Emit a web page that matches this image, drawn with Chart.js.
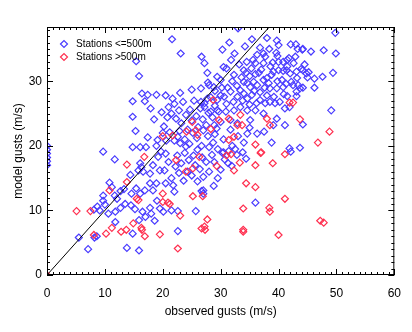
<!DOCTYPE html>
<html>
<head>
<meta charset="utf-8">
<script src="https://cdn.jsdelivr.net/npm/chart.js@4.4.1/dist/chart.umd.min.js"></script>
<style>
  html, body { margin: 0; padding: 0; background: #fff; }
  #chart { display: block; }
</style>
</head>
<body>
<canvas id="chart" width="412" height="332"></canvas>
<script>
// observed gust, model gust (m/s) -- stations at or below 500 m
const lowStations = [
  [0,17.0],[0,17.6],[0,18.2],[0,18.8],[0,19.4],[0,20.0],
  [9.7,19.1],[11.7,17.9],[16.1,17.3],[16.3,16.7],[15.8,16.2],[16.6,16.0],[17.8,15.7],[18.3,17.0],[19.2,18.3],[19.5,16.2],
  [17.8,14.2],[16.9,13.1],[18.3,13.1],[18.9,14.2],[16.1,12.6],[14.6,12.6],[15.4,13.4],[14.4,15.5],
  [10.8,14.3],[11.2,13.6],[9.7,12.3],[9.7,11.5],[11.7,12.3],[12.1,11.8],[12.7,13.0],[13.3,13.3],
  [8.1,10.1],[8.7,10.6],[9.1,10.0],[10.0,10.9],[10.6,9.5],[11.8,9.8],[11.8,8.2],
  [12.7,10.4],[13.5,11.0],[14.5,10.8],[15.2,10.2],[15.9,8.5],[16.5,9.8],[17.0,9.0],[17.8,10.4],[18.0,9.5],[19.0,11.5],[19.5,10.3],[18.6,8.4],
  [5.5,5.8],[7.1,4.0],[8.2,5.8],[8.6,6.0],[13.8,4.2],[15.9,3.8],[14.8,6.4],
  [14.8,19.8],[16.1,19.8],[17.1,19.8],[18.9,20.0],[19.7,19.1],[15.3,22.3],[17.4,21.3],[19.1,20.9],[20.6,20.8],
  [15.4,33.1],[15.9,30.8],[16.4,28.1],[17.4,27.9],[14.8,26.9],[16.9,26.9],[18.9,27.9],[17.9,25.8],[14.8,24.5],[18.5,24.1],[19.8,25.2],[20.5,27.8],
  [21.0,26.0],[21.5,25.0],[22.0,26.5],[22.3,24.2],[22.8,25.5],[23.2,23.5],[23.5,26.8],[24.0,24.8],[24.3,22.5],[24.7,25.6],
  [25.0,23.9],[25.4,27.0],[25.8,24.6],[26.1,22.9],[26.5,25.8],[26.9,24.1],[27.2,26.6],[27.5,23.2],[27.9,25.1],[28.3,27.5],
  [28.6,24.4],[29.0,26.2],[29.3,22.7],[29.7,25.3],[30.0,27.8],[20.2,23.0],[21.2,22.1],[22.6,21.4],[23.8,21.0],[24.6,20.3],
  [25.9,21.2],[26.7,20.0],[27.8,21.5],[28.7,20.5],[21.7,27.3],[23.0,28.2],[25.0,28.7],[26.6,28.9],[27.7,31.3],[27.8,29.8],
  [28.8,29.1],[21.6,36.5],[23.1,34.3],[26.7,33.8],[27.2,32.8],[22.0,20.8],[20.8,24.4],
  [33.0,38.2],[38.0,36.7],[39.7,36.3],[40.0,35.6],[42.1,35.7],[43.0,35.7],[44.1,34.9],[45.6,34.6],[47.8,34.8],[49.8,37.5],
  [49.9,34.3],[30.3,34.9],[32.4,34.3],[36.3,34.1],[37.4,34.3],[37.7,33.8],[39.6,34.4],[39.8,33.9],[40.8,33.0],[41.5,33.3],
  [42.9,33.8],[39.0,32.9],[40.0,33.0],[36.0,32.8],[37.4,32.8],[30.5,32.2],[31.0,32.0],[34.0,31.7],[34.4,31.3],[32.3,31.0],
  [36.0,31.1],[36.6,31.3],[39.1,31.5],[40.0,31.7],[40.8,31.6],[41.4,31.7],[43.1,31.5],[44.2,31.7],[44.8,31.2],[46.2,30.4],
  [47.6,30.7],[49.4,31.3],[29.4,30.7],[30.0,30.2],[28.0,29.4],[34.0,29.9],[34.6,29.7],[35.1,29.1],[35.7,29.9],[36.3,29.4],
  [37.4,30.2],[38.3,29.7],[38.5,28.9],[39.7,28.9],[40.8,29.1],[42.5,29.4],[43.7,28.9],[40.9,28.0],[41.5,27.7],[33.4,28.6],
  [34.0,28.1],[32.9,27.6],[34.6,27.3],[35.4,27.9],[31.7,28.4],[30.6,27.6],[29.4,27.1],[27.7,27.3],[26.6,26.8],[36.8,27.1],
  [37.7,26.6],[38.5,26.8],[39.4,26.6],[41.1,25.8],[41.9,26.0],[49.1,25.5],[36.0,25.5],[37.4,25.0],[34.6,25.5],[33.4,26.0],
  [32.3,25.5],[30.9,25.3],[29.4,25.5],[28.3,25.3],[27.2,26.0],[39.7,24.2],[41.1,23.2],[39.1,23.2],[35.1,24.0],[32.9,23.5],
  [31.7,24.0],[30.0,23.7],[28.9,23.2],
  [41.5,32.3],[42.0,31.2],[42.6,32.8],[43.2,30.5],[43.9,31.9],[44.5,32.6],[45.2,31.4],[40.6,30.2],[41.3,29.6],[42.2,29.9],
  [43.4,29.4],[44.2,29.0],[45.0,30.6],[41.8,33.6],[43.1,28.4],[43.1,27.7],[44.2,23.3],[43.7,19.7],[41.9,19.6],
  [46.2,29.0],[43.3,35.0],[44.2,35.0],
  [31.2,29.0],[32.0,30.0],[32.8,29.3],[33.6,30.6],[35.0,30.8],[35.8,28.5],[36.8,28.3],[37.6,29.0],[38.0,30.5],[38.8,31.0],
  [37.0,31.8],[35.3,32.0],[33.2,32.6],[31.8,33.3],[29.0,28.5],[30.2,29.0],[31.0,26.5],[32.2,26.8],[33.8,27.0],[35.0,26.4],
  [36.2,26.6],[38.0,27.8],[39.2,27.6],[40.2,26.8],[39.8,30.0],[38.6,32.3],[35.6,33.3],[34.5,33.0],[36.8,35.2],[38.4,35.0],
  [34.2,35.4],[35.4,36.5],[31.5,36.0],
  [22.0,12.9],[27.0,13.1],[27.0,12.6],[28.8,13.8],[36.0,11.2],[25.7,9.9],[22.6,6.8],[22.6,9.9],[20.1,9.8],[21.5,10.0],
  [22.5,18.5],[23.2,17.3],[23.8,18.9],[24.5,17.8],[25.0,15.4],[25.6,17.0],[26.0,14.5],[26.4,16.4],[27.0,15.2],[27.5,17.5],
  [28.0,16.0],[22.8,15.8],[23.6,14.6],[24.3,16.0],[25.3,18.5],[26.8,18.2],[28.5,18.6],[22.2,16.8],[21.5,15.0],[21.0,17.5],
  [20.5,18.8],[20.3,16.2],[21.8,13.9],[20.5,14.2],
  [28.9,17.5],[30.7,17.9],[31.3,17.3],[31.9,16.9],[33.8,19.0],[34.4,18.0],[29.5,19.5],[30.5,19.0],[32.5,19.5],[26.7,13.0],
  [29.5,15.0],[30.0,16.3],[30.3,18.9],[31.4,19.2],[32.8,18.6],
  [36.3,21.9],[34.6,21.9],[38.8,20.5],[42.1,19.1],
  [20.0,22.0],[22.9,22.3],[25.2,22.0],[27.0,22.4],[29.0,21.8],[30.5,21.0],[31.7,22.5],[33.0,21.5],[35.0,22.8],[37.5,22.2],
  [32.0,20.0],[34.0,20.5],[28.0,19.8],[26.0,19.4],[24.0,19.9],[23.0,20.4]
];

// stations above 500 m
const highStations = [
  [0,0],[5.1,9.9],[7.5,9.9],[8.1,6.2],[10.2,6.4],[11.2,7.3],[12.8,6.7],[13.7,7.0],[14.9,8.0],[16.3,7.3],
  [16.4,7.0],[16.9,6.0],[19.5,6.3],[10.8,13.1],[13.8,14.4],[13.8,17.1],[16.8,18.3],[15.5,11.8],[15.8,11.6],[22.6,4.1],
  [27.7,8.6],[26.7,7.2],[27.2,7.5],[27.3,7.0],[23.0,9.2],[20.9,11.2],[21.2,11.0],[20.0,12.6],[20.0,11.3],[25.2,12.2],
  [26.9,12.2],[24.0,16.0],[25.2,16.5],[26.3,18.3],[22.3,17.8],[29.3,16.9],[31.0,18.5],[31.8,18.7],[32.3,16.2],[33.3,17.4],
  [36.0,17.0],[36.9,18.9],[39.0,17.3],[41.1,18.7],[37.0,19.0],[36.0,20.2],[34.4,14.2],[36.0,13.6],[33.9,10.3],[38.4,10.4],
  [38.5,9.8],[40.0,6.2],[33.9,7.0],[33.9,6.7],[41.1,11.8],[47.2,8.4],[47.8,8.1],[46.8,20.5],[48.8,22.2],[43.7,24.1],
  [41.9,26.7],[42.5,26.7],[28.7,27.1],[25.1,23.7],[24.1,22.2],[25.7,22.4],[26.0,21.7],[28.3,22.6],[29.7,24.0],[31.4,24.2],
  [33.4,24.8],[32.9,23.2],[33.7,23.2],[38.0,24.2],[38.5,23.2],[32.3,21.4],[31.4,20.9],[20.0,21.5],[21.7,21.6]
];

// one-to-one line
const diagonal = [[0,0],[60,60]];

const xTicks = [0, 10, 20, 30, 40, 50, 60];
const yTicks = [0, 10, 20, 30];
const legendNames = ["Stations <=500m", "Stations >500m"];

const BLUE = "#4a3cff";
const RED = "#ff3050";
const FONT = "'Liberation Sans', Arial, Helvetica, sans-serif";

const toXY = arr => arr.map(([x, y]) => ({ x, y }));

// frame with inward ticks on all four sides, IDL style
const framePlugin = {
  id: "frame",
  afterDatasetsDraw(chart) {
    const { ctx, chartArea: a, scales } = chart;
    ctx.save();
    ctx.strokeStyle = "#000";
    ctx.lineWidth = 1;
    ctx.strokeRect(a.left + 0.5, a.top + 0.5, a.right - a.left - 1, a.bottom - a.top - 1);
    ctx.beginPath();
    for (let v = scales.x.min; v <= scales.x.max; v++) {
      const px = Math.round(scales.x.getPixelForValue(v)) + 0.5;
      const len = v % 10 === 0 ? 6 : 3;
      ctx.moveTo(px, a.bottom); ctx.lineTo(px, a.bottom - len);
      ctx.moveTo(px, a.top); ctx.lineTo(px, a.top + len);
    }
    for (let v = 0; v <= scales.y.max; v++) {
      const py = Math.round(scales.y.getPixelForValue(v)) + 0.5;
      const len = v % 10 === 0 ? 6 : 3;
      ctx.moveTo(a.left, py); ctx.lineTo(a.left + len, py);
      ctx.moveTo(a.right, py); ctx.lineTo(a.right - len, py);
    }
    ctx.stroke();
    ctx.restore();
  }
};

// legend in the top-left corner of the plot
const cornerLegend = {
  id: "cornerLegend",
  afterDraw(chart) {
    const { ctx, chartArea: a } = chart;
    const colors = [BLUE, RED];
    ctx.save();
    ctx.font = "10px " + FONT;
    ctx.textBaseline = "middle";
    legendNames.forEach((name, i) => {
      const y = a.top + 17 + i * 13;
      ctx.strokeStyle = colors[i];
      ctx.fillStyle = "rgba(0,0,0,0)";
      ctx.lineWidth = 1.2;
      Chart.helpers.drawPoint(ctx, { pointStyle: "rectRot", radius: 3.5, borderWidth: 1.2, rotation: 0 }, a.left + 17, y);
      ctx.fillStyle = "#000";
      ctx.fillText(name, a.left + 29, y);
    });
    ctx.restore();
  }
};

new Chart(document.getElementById("chart"), {
  type: "scatter",
  data: {
    datasets: [
      {
        label: legendNames[0],
        data: toXY(lowStations),
        pointStyle: "rectRot",
        pointRadius: 3.5,
        pointBorderWidth: 1.2,
        borderColor: BLUE,
        backgroundColor: "rgba(0,0,0,0)",
        order: 3
      },
      {
        label: legendNames[1],
        data: toXY(highStations),
        pointStyle: "rectRot",
        pointRadius: 3.5,
        pointBorderWidth: 1.2,
        borderColor: RED,
        backgroundColor: "rgba(0,0,0,0)",
        order: 2
      },
      {
        type: "line",
        label: "1:1",
        data: toXY(diagonal),
        borderColor: "#000",
        borderWidth: 1,
        pointRadius: 0,
        order: 1
      }
    ]
  },
  options: {
    responsive: false,
    animation: false,
    layout: { padding: { top: 27, right: 13, left: 0, bottom: 0 } },
    plugins: { legend: { display: false }, tooltip: { enabled: false } },
    scales: {
      x: {
        type: "linear",
        min: 0,
        max: 60,
        afterBuildTicks: s => { s.ticks = xTicks.map(v => ({ value: v })); },
        afterFit: s => { s.height = 57; },
        grid: { display: false, drawTicks: false },
        border: { display: false },
        ticks: { padding: 11, color: "#000", font: { family: FONT, size: 12 } },
        title: {
          display: true,
          text: "observed gusts (m/s)",
          color: "#000",
          font: { family: FONT, size: 12 },
          padding: { top: 0, bottom: 13 }
        }
      },
      y: {
        type: "linear",
        min: 0,
        max: 38.4,
        afterBuildTicks: s => { s.ticks = yTicks.map(v => ({ value: v })); },
        afterFit: s => { s.width = 47; },
        grid: { display: false, drawTicks: false },
        border: { display: false },
        ticks: { padding: 5, color: "#000", font: { family: FONT, size: 12 } },
        title: {
          display: true,
          text: "model gusts (m/s)",
          color: "#000",
          font: { family: FONT, size: 12 },
          padding: { top: 11, bottom: 0 }
        }
      }
    }
  },
  plugins: [framePlugin, cornerLegend]
});
</script>
</body>
</html>
